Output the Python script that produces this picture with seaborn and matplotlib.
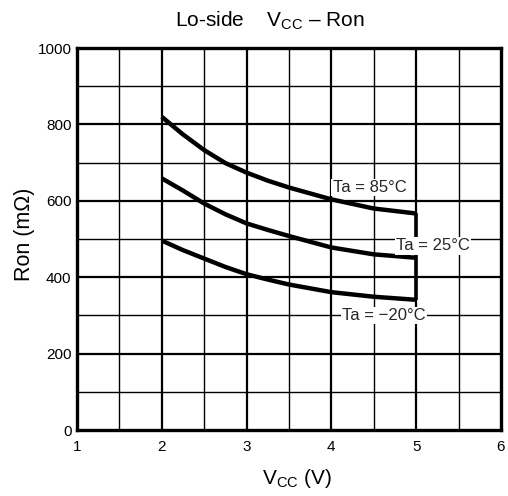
import matplotlib
matplotlib.use("Agg")
import matplotlib.pyplot as plt
import seaborn as sns
import pandas as pd
import numpy as np

# Data
vcc = [2.0, 2.25, 2.5, 2.75, 3.0, 3.25, 3.5, 4.0, 4.5, 5.0]
ron_85 = [820, 774, 733, 699, 674, 653, 635, 604, 580, 567]
ron_25 = [659, 627, 593, 565, 541, 524, 508, 478, 460, 451]
ron_m20 = [496, 471, 449, 427, 408, 394, 381, 361, 349, 341]
series_names = ["Ta = 85°C", "Ta = 25°C", "Ta = \u221220°C"]
label_pos_x = [4.45, 5.20, 4.62]
label_pos_y = [635, 482, 300]
x_ticks = [1, 2, 3, 4, 5, 6]
y_ticks = [0, 200, 400, 600, 800, 1000]

df = pd.DataFrame({
    "Vcc": vcc * 3,
    "Ron": ron_85 + ron_25 + ron_m20,
    "Ta": [series_names[0]] * len(vcc) + [series_names[1]] * len(vcc) + [series_names[2]] * len(vcc),
})

sns.set_theme(style="white")
plt.rcParams["font.family"] = ["Liberation Sans", "DejaVu Sans"]
plt.rcParams["mathtext.fontset"] = "custom"
plt.rcParams["mathtext.rm"] = "Liberation Sans"

fig = plt.figure(figsize=(5.08, 4.96), dpi=100)
ax = fig.add_axes([0.1516, 0.133, 0.986 - 0.1516, 0.903 - 0.133])

# grid
for xv in np.arange(1.5, 6.0, 0.5):
    major = abs(xv - round(xv)) < 1e-9
    ax.axvline(xv, color="black", lw=1.6 if major else 1.0, zorder=1)
for yv in np.arange(100, 1000, 100):
    major = yv % 200 == 0
    ax.axhline(yv, color="black", lw=1.6 if major else 1.0, zorder=1)

sns.lineplot(data=df, x="Vcc", y="Ron", hue="Ta",
             palette=["black"] * 3, legend=False, ax=ax, lw=3.2, zorder=3)
for line in ax.get_lines():
    line.set_solid_joinstyle("round")
    line.set_solid_capstyle("butt")

# vertical end line joining curve ends
ends = [ron_85[-1], ron_25[-1], ron_m20[-1]]
ax.vlines(vcc[-1], min(ends), max(ends), color="black", lw=2.6, zorder=3)

for name, lx, ly in zip(series_names, label_pos_x, label_pos_y):
    ax.text(lx, ly, name, ha="center", va="center", fontsize=12, zorder=4,
            bbox=dict(facecolor="white", edgecolor="none", pad=1.0))

ax.set_xlim(1, 6)
ax.set_ylim(0, 1000)
ax.set_xticks(x_ticks)
ax.set_yticks(y_ticks)
ax.tick_params(axis="x", labelsize=11, length=0, pad=7, colors="black")
ax.tick_params(axis="y", labelsize=11, length=0, pad=4, colors="black")
for s in ax.spines.values():
    s.set_visible(True)
    s.set_color("black")
    s.set_linewidth(2.4)
    s.set_zorder(5)

ax.set_xlabel("V$_{\\mathregular{CC}}$ (V)", fontsize=15, color="black", va="center", ha="center")
ax.xaxis.set_label_coords(0.518, -0.128)
ax.set_ylabel("Ron (m\u03a9)", fontsize=15.5, color="black", va="center", ha="center")
ax.yaxis.set_label_coords(-0.123, 0.513)
fig.text(0.5305, 0.958, "Lo-side    V$_{\\mathregular{CC}}$ \u2013 Ron", fontsize=15,
         ha="center", va="center", color="black")

fig.savefig("out.png", dpi=100)
